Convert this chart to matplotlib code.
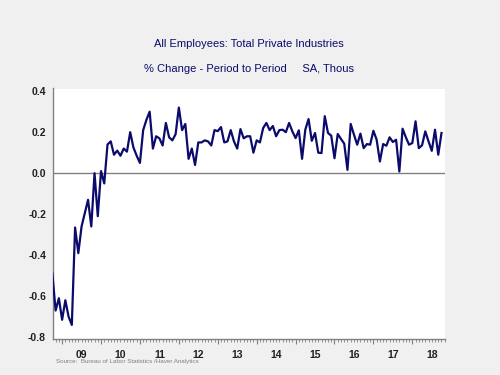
import numpy as np
import matplotlib.pyplot as plt
from matplotlib.ticker import MultipleLocator

# monthly % change, Oct 2008 .. Oct 2018
pct_change = [
    -0.49, -0.67, -0.61, -0.715, -0.62, -0.70, -0.74, -0.265, -0.39, -0.26,
    -0.195, -0.13, -0.26, 0.00, -0.21, 0.01, -0.05, 0.14, 0.155, 0.09,
    0.11, 0.085, 0.12, 0.105, 0.20, 0.125, 0.085, 0.05, 0.21, 0.26,
    0.30, 0.12, 0.18, 0.17, 0.135, 0.245, 0.175, 0.16, 0.19, 0.32,
    0.21, 0.24, 0.07, 0.12, 0.04, 0.15, 0.15, 0.16, 0.155, 0.135,
    0.21, 0.205, 0.225, 0.15, 0.155, 0.21, 0.155, 0.12, 0.215, 0.17,
    0.18, 0.18, 0.10, 0.16, 0.15, 0.22, 0.245, 0.21, 0.23, 0.18,
    0.21, 0.212, 0.20, 0.245, 0.204, 0.171, 0.209, 0.07, 0.212, 0.264,
    0.158, 0.196, 0.10, 0.098, 0.278, 0.196, 0.183, 0.073, 0.191, 0.167,
    0.144, 0.016, 0.24, 0.188, 0.139, 0.193, 0.122, 0.142, 0.139, 0.207,
    0.163, 0.057, 0.142, 0.134, 0.175, 0.152, 0.163, 0.008, 0.217, 0.175,
    0.139, 0.147, 0.253, 0.122, 0.136, 0.204, 0.155, 0.109, 0.212, 0.09,
    0.196,
]
start_year = 2008.75  # Oct 2008
year_labels = ['09', '10', '11', '12', '13', '14', '15', '16', '17', '18']
y_ticks = [-0.8, -0.6, -0.4, -0.2, 0.0, 0.2, 0.4]

x = start_year + np.arange(len(pct_change)) / 12.0

navy = '#0b0b6b'
plt.rcParams['font.family'] = ['Liberation Sans', 'DejaVu Sans']

fig = plt.figure(figsize=(5, 3.75), dpi=100, facecolor='#f0f0f0')
ax = fig.add_axes([0.106, 0.097, 0.784, 0.667])
ax.set_facecolor('white')

ax.plot(x, pct_change, color=navy, lw=1.6, zorder=3)
ax.axhline(0, color='#808080', lw=1.0, zorder=2)

ax.set_xlim(2008.766, 2018.84)
ax.set_ylim(-0.807, 0.413)

for s in ['top', 'right']:
    ax.spines[s].set_visible(False)
for s in ['left', 'bottom']:
    ax.spines[s].set_color('#808080')
    ax.spines[s].set_linewidth(1.0)

ax.set_yticks(y_ticks)
ax.set_yticklabels(['%.1f' % v for v in y_ticks])
ax.tick_params(axis='y', length=0, pad=5, labelsize=7.5, labelcolor='#202020')
for lab in ax.get_yticklabels():
    lab.set_fontweight('bold')

ax.xaxis.set_major_locator(MultipleLocator(1))
ax.xaxis.set_minor_locator(MultipleLocator(1 / 12))
ax.tick_params(axis='x', which='major', length=3.5, color='#808080', labelbottom=False)
ax.tick_params(axis='x', which='minor', length=2, color='#808080')

for i, lab in enumerate(year_labels):
    ax.text(2009.5 + i, -0.046, lab, transform=ax.get_xaxis_transform(),
            ha='center', va='top', fontsize=7.5, fontweight='bold', color='#202020')

fig.text(0.497, 0.883, 'All Employees: Total Private Industries',
         ha='center', va='center', fontsize=8, color=navy)
fig.text(0.497, 0.816, '% Change - Period to Period     SA, Thous',
         ha='center', va='center', fontsize=8, color=navy)
fig.text(0.112, 0.035, 'Source:  Bureau of Labor Statistics /Haver Analytics',
         ha='left', va='center', fontsize=4.5, color='#808080')

fig.savefig('out.png', dpi=100, facecolor=fig.get_facecolor())
